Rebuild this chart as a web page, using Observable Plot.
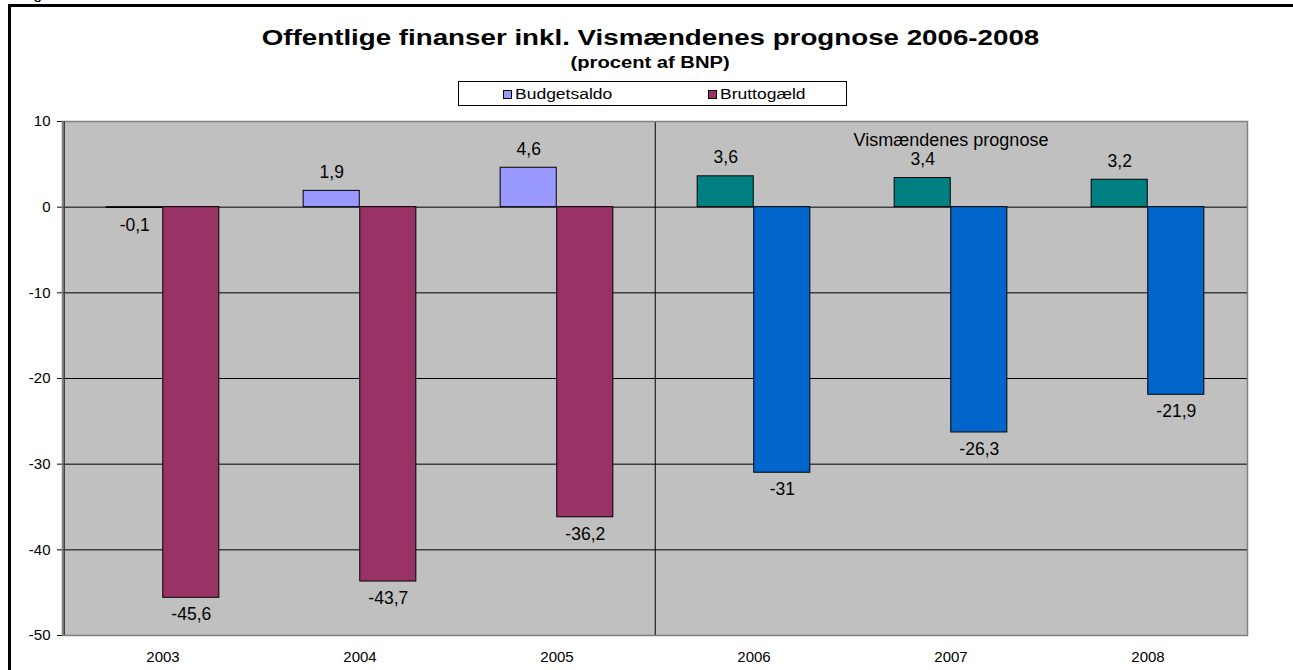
<!DOCTYPE html>
<html>
<head>
<meta charset="utf-8">
<script src="https://cdn.jsdelivr.net/npm/d3@7"></script>
<script src="https://cdn.jsdelivr.net/npm/@observablehq/plot@0.6"></script>
<style>
  html, body { margin: 0; padding: 0; background: #fff; }
  body { width: 1293px; height: 670px; position: relative; overflow: hidden;
         font-family: "Liberation Sans", Arial, sans-serif; color: #000; }
  #box { position: absolute; left: 8px; top: 4px; width: 1400px; height: 800px;
         border-left: 3px solid #000; border-top: 3px solid #000; }
  #fig { position: absolute; left: 20px; top: -15px; font-size: 16px; }
  .hd { position: absolute; left: 0; width: 1293px; text-align: center; font-weight: bold; white-space: nowrap; }
  .hd span { display: inline-block; transform: scaleX(1.26); transform-origin: center; }
  #title { top: 27px; font-size: 22px; line-height: 22px; margin-left: 4px; }
  #subtitle { top: 55px; font-size: 16px; line-height: 16px; margin-left: 4px; }
  #legend { position: absolute; left: 458px; top: 81px; width: 389px; height: 25px;
            border: 1px solid #000; background: #fff; box-sizing: border-box; }
  .item { position: absolute; top: 4px; font-size: 14px; line-height: 16px; white-space: nowrap; }
  .sw { position: absolute; top: 4px; width: 7px; height: 7px; border: 1px solid #000; }
  .lab { position: absolute; left: 12px; top: 0; display: inline-block; transform: scaleX(1.25); transform-origin: left center; }
  #chart { position: absolute; left: 0; top: 110px; }
</style>
</head>
<body>
<div id="box"></div>
<div id="fig">Figur</div>
<div class="hd" id="title"><span>Offentlige finanser inkl. Vismændenes prognose 2006-2008</span></div>
<div class="hd" id="subtitle"><span>(procent af BNP)</span></div>
<div id="legend"></div>
<div id="chart"></div>
<script>
// ---- data ----
const years = ["2003", "2004", "2005", "2006", "2007", "2008"];
const budgetsaldo = [-0.1, 1.9, 4.6, 3.6, 3.4, 3.2];
const bruttogaeld = [-45.6, -43.7, -36.2, -31, -26.3, -21.9];
const forecastYears = ["2006", "2007", "2008"];
const seriesNames = ["Budgetsaldo", "Bruttogæld"];
const yTicks = [10, 0, -10, -20, -30, -40, -50];
const annotation = "Vismændenes prognose";
const colorKeys = ["Budgetsaldo", "Bruttogæld", "Budgetsaldo prognose", "Bruttogæld prognose"];
const colorRange = ["#9999FF", "#993366", "#008080", "#0066CC"];

// ---- table ----
const seriesValues = {"Budgetsaldo": budgetsaldo, "Bruttogæld": bruttogaeld};
const rows = [];
years.forEach((yr, i) => {
  seriesNames.forEach(s => {
    rows.push({year: yr, series: s, value: seriesValues[s][i], forecast: forecastYears.includes(yr)});
  });
});
const fmt = v => String(v).replace(".", ",");
const colorKey = d => d.forecast ? d.series + " prognose" : d.series;

// ---- legend (HTML) ----
const legend = document.getElementById("legend");
const legendX = [44, 249];
seriesNames.forEach((s, i) => {
  const it = document.createElement("div");
  it.className = "item";
  it.style.left = legendX[i] + "px";
  const sw = document.createElement("span");
  sw.className = "sw";
  sw.style.background = colorRange[i];
  const lb = document.createElement("span");
  lb.className = "lab";
  lb.textContent = s;
  it.appendChild(sw); it.appendChild(lb);
  legend.appendChild(it);
});

// ---- layout ----
const W = 1293, H = 560, mL = 62, mR = 46, mT = 11, mB = 35;
const bw = (W - mL - mR) / years.length;
const barW = 0.2865 * bw;
const gap = bw / 2 - barW;
const insets = {
  "Budgetsaldo": {insetLeft: gap, insetRight: bw / 2, dx: -barW / 2},
  "Bruttogæld": {insetLeft: bw / 2, insetRight: gap, dx: barW / 2}
};

const labelMarks = [];
seriesNames.forEach(s => {
  const sub = rows.filter(r => r.series === s);
  labelMarks.push(Plot.text(sub.filter(r => r.value >= 0), {
    x: "year", y: "value", text: d => fmt(d.value), dx: insets[s].dx, dy: -18.5,
    fontSize: 17.5, fill: "#000"
  }));
  labelMarks.push(Plot.text(sub.filter(r => r.value < 0), {
    x: "year", y: "value", text: d => fmt(d.value), dx: insets[s].dx, dy: 17,
    fontSize: 17.5, fill: "#000"
  }));
});

const chart = Plot.plot({
  width: W, height: H,
  marginLeft: mL, marginRight: mR, marginTop: mT, marginBottom: mB,
  style: {fontFamily: "Liberation Sans, Arial, sans-serif", fontSize: "15px", color: "#000", background: "transparent"},
  x: {domain: years, padding: 0, tickSize: 0, tickPadding: 16, label: null},
  y: {domain: [yTicks[yTicks.length - 1], yTicks[0]], ticks: yTicks, tickSize: 5, tickPadding: 7,
      tickFormat: d => String(d), label: null},
  color: {domain: colorKeys, range: colorRange},
  marks: [
    Plot.frame({fill: "#C0C0C0", stroke: "none"}),
    Plot.ruleY(yTicks.slice(1, -1), {stroke: "#000", strokeWidth: 1}),
    Plot.ruleX([forecastYears[0]], {dx: -bw / 2, stroke: "#000", strokeWidth: 1}),
    ...seriesNames.map(s => Plot.barY(rows.filter(r => r.series === s), {
      x: "year", y: "value", fill: colorKey, stroke: "#000", strokeWidth: 1,
      insetLeft: insets[s].insetLeft, insetRight: insets[s].insetRight
    })),
    ...labelMarks,
    Plot.text([annotation], {x: () => forecastYears[1], frameAnchor: "top", lineAnchor: "middle", dy: 19,
      text: d => d, fontSize: 18, fill: "#000"}),
    Plot.frame({stroke: "#808080", strokeWidth: 1.5}),
    Plot.ruleX([years[0]], {dx: -bw / 2, stroke: "#404040", strokeWidth: 1.5})
  ]
});
document.getElementById("chart").appendChild(chart);
</script>
</body>
</html>
